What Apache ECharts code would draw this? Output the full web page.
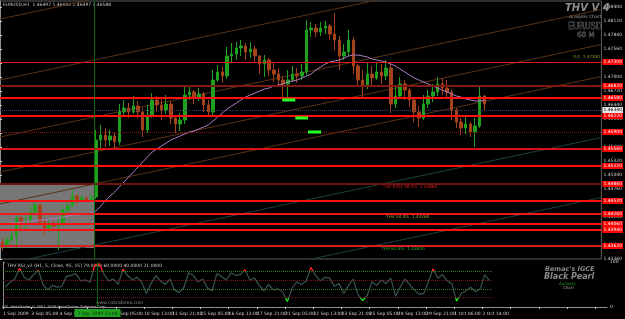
<!DOCTYPE html>
<html lang="en">
<head>
<meta charset="UTF-8">
<title>EURUSD H1</title>
<script src="https://cdn.jsdelivr.net/npm/echarts@6.0.0/dist/echarts.min.js"></script>
<style>
	* { margin: 0; padding: 0; }
	body, html { background: #000; }
	#main { width: 625px; height: 319px; }
</style>
</head>
<body>
<div id="main"></div>
<script>
	// time labels under the indicator pane (one every 6 candles)
	const tickLabels = ['1 Sep 2009', '3 Sep 05:00', '4 Sep 13:00', '7 Sep 21:00', '9 Sep 05:00', '10 Sep 13:00',
		'11 Sep 21:00', '15 Sep 05:00', '16 Sep 13:00', '17 Sep 21:00', '21 Sep 05:00', '22 Sep 13:00',
		'23 Sep 21:00', '25 Sep 05:00', '28 Sep 13:00', '29 Sep 21:00', '1 Oct 06:00', '2 Oct 14:00'];

	const firstOpen = 1.4370;
	const closes = [
		1.4364, 1.4374, 1.4382, 1.4418, 1.4406, 1.4412, 1.4430, 1.4444, 1.4410, 1.4398,
		1.4406, 1.4402, 1.4406, 1.4434, 1.4442, 1.4462, 1.4454, 1.4458, 1.4454, 1.4460,
		1.4574, 1.4584, 1.4574, 1.4582, 1.4570, 1.4630, 1.4638, 1.4630, 1.4642, 1.4630,
		1.4594, 1.4624, 1.4654, 1.4644, 1.4634, 1.4646, 1.4618, 1.4606, 1.4614, 1.4664,
		1.4670, 1.4658, 1.4666, 1.4644, 1.4630, 1.4694, 1.4710, 1.4702, 1.4742, 1.4746,
		1.4758, 1.4762, 1.4750, 1.4756, 1.4742, 1.4726, 1.4734, 1.4714, 1.4706, 1.4694,
		1.4686, 1.4694, 1.4706, 1.4702, 1.4710, 1.4794, 1.4798, 1.4790, 1.4798, 1.4802,
		1.4786, 1.4774, 1.4742, 1.4750, 1.4774, 1.4722, 1.4694, 1.4682, 1.4706, 1.4698,
		1.4710, 1.4702, 1.4718, 1.4646, 1.4662, 1.4686, 1.4674, 1.4654, 1.4630, 1.4618,
		1.4646, 1.4662, 1.4670, 1.4686, 1.4678, 1.4670, 1.4634, 1.4610, 1.4598, 1.4606,
		1.4590, 1.4602, 1.4662, 1.4646
	];
	const highs = [
		1.4378, 1.4382, 1.4394, 1.4428, 1.4422, 1.4424, 1.4442, 1.4452, 1.4444, 1.4418,
		1.4416, 1.4416, 1.4418, 1.4444, 1.4454, 1.4474, 1.4466, 1.4464, 1.4462, 1.4466,
		1.4594, 1.4604, 1.4598, 1.4594, 1.4588, 1.4646, 1.4654, 1.4648, 1.4662, 1.4652,
		1.4638, 1.4644, 1.4668, 1.4662, 1.4658, 1.4664, 1.4652, 1.4622, 1.4628, 1.4680,
		1.4682, 1.4674, 1.4678, 1.4670, 1.4654, 1.4714, 1.4724, 1.4720, 1.4760, 1.4768,
		1.4770, 1.4774, 1.4768, 1.4770, 1.4762, 1.4744, 1.4744, 1.4738, 1.4730, 1.4718,
		1.4702, 1.4714, 1.4722, 1.4718, 1.4726, 1.4814, 1.4810, 1.4806, 1.4810, 1.4812,
		1.4806, 1.4828, 1.4782, 1.4766, 1.4794, 1.4780, 1.4726, 1.4714, 1.4730, 1.4722,
		1.4730, 1.4726, 1.4734, 1.4726, 1.4682, 1.4700, 1.4694, 1.4678, 1.4658, 1.4642,
		1.4664, 1.4674, 1.4686, 1.4700, 1.4698, 1.4694, 1.4674, 1.4638, 1.4618, 1.4620,
		1.4610, 1.4618, 1.4680, 1.4664
	];
	const lows = [
		1.4354, 1.4358, 1.4370, 1.4358, 1.4396, 1.4396, 1.4410, 1.4424, 1.4402, 1.4384,
		1.4390, 1.4392, 1.4354, 1.4402, 1.4430, 1.4440, 1.4446, 1.4450, 1.4448, 1.4450,
		1.4456, 1.4554, 1.4560, 1.4562, 1.4554, 1.4564, 1.4622, 1.4618, 1.4626, 1.4618,
		1.4580, 1.4588, 1.4618, 1.4630, 1.4614, 1.4626, 1.4606, 1.4588, 1.4592, 1.4606,
		1.4654, 1.4646, 1.4652, 1.4630, 1.4622, 1.4624, 1.4690, 1.4688, 1.4696, 1.4730,
		1.4734, 1.4742, 1.4734, 1.4738, 1.4730, 1.4706, 1.4700, 1.4702, 1.4690, 1.4680,
		1.4658, 1.4658, 1.4690, 1.4688, 1.4694, 1.4704, 1.4780, 1.4780, 1.4782, 1.4786,
		1.4774, 1.4754, 1.4714, 1.4734, 1.4742, 1.4706, 1.4680, 1.4660, 1.4676, 1.4682,
		1.4694, 1.4686, 1.4694, 1.4628, 1.4638, 1.4658, 1.4654, 1.4640, 1.4610, 1.4600,
		1.4614, 1.4638, 1.4650, 1.4662, 1.4664, 1.4658, 1.4614, 1.4598, 1.4584, 1.4586,
		1.4580, 1.4560, 1.4598, 1.4634
	];
	// purple moving average
	const ma = [
		1.4406, 1.4406, 1.4408, 1.4408, 1.4410, 1.4410, 1.4412, 1.4412, 1.4414, 1.4414,
		1.4416, 1.4416, 1.4418, 1.4420, 1.4422, 1.4424, 1.4424, 1.4426, 1.4426, 1.4428,
		1.4432, 1.4442, 1.4452, 1.4462, 1.4470, 1.4480, 1.4490, 1.4500, 1.4510, 1.4520,
		1.4530, 1.4540, 1.4550, 1.4556, 1.4562, 1.4568, 1.4574, 1.4578, 1.4582, 1.4586,
		1.4590, 1.4592, 1.4596, 1.4600, 1.4604, 1.4612, 1.4620, 1.4628, 1.4636, 1.4642,
		1.4648, 1.4654, 1.4660, 1.4664, 1.4668, 1.4672, 1.4676, 1.4678, 1.4682, 1.4684,
		1.4686, 1.4690, 1.4692, 1.4694, 1.4698, 1.4702, 1.4706, 1.4714, 1.4720, 1.4726,
		1.4730, 1.4732, 1.4734, 1.4738, 1.4742, 1.4744, 1.4744, 1.4742, 1.4740, 1.4736,
		1.4734, 1.4732, 1.4730, 1.4726, 1.4722, 1.4716, 1.4710, 1.4704, 1.4698, 1.4694,
		1.4690, 1.4686, 1.4682, 1.4678, 1.4674, 1.4670, 1.4666, 1.4662, 1.4660, 1.4656,
		1.4654, 1.4652, 1.4652, 1.4654
	];
	const rsi = [
		45, 55, 62, 86, 66, 60, 72, 82, 50, 38, 48, 44, 46, 68, 70, 74, 58, 60, 55, 93,
		96, 72, 58, 62, 50, 84, 70, 60, 66, 55, 30, 52, 70, 58, 50, 62, 38, 32, 44, 76,
		70, 56, 62, 42, 36, 74, 68, 60, 76, 70, 72, 83, 60, 64, 48, 36, 50, 38, 40, 34,
		12, 42, 56, 50, 58, 88, 70, 58, 66, 64, 46, 52, 30, 48, 62, 28, 14, 26, 56, 48,
		60, 52, 64, 24, 44, 62, 50, 38, 28, 30, 56, 85, 64, 72, 58, 52, 13, 30, 36, 44,
		34, 40, 72, 58
	];
	const rsiLevels = [79, 60, 40, 21];

	// horizontal price levels (red lines with price boxes)
	const levelPrices = [1.4730, 1.4682, 1.4658, 1.4634, 1.4622, 1.4590, 1.4556, 1.4522, 1.4486,
		1.4452, 1.4426, 1.4406, 1.4394, 1.4362];
	// trend lines: price at left edge, price at right edge
	const trendLines = [[1.4816, 1.5071], [1.4694, 1.4949], [1.4580, 1.4835], [1.4510, 1.4765], [1.4446, 1.4701]];
	const lowerTrendLines = [[1.4324, 1.4579], [1.4204, 1.4459]];
	// short green marks: [from, to, price]
	const greenMarks = [[60.3, 63.1, 1.4654], [63.1, 65.8, 1.4618], [65.8, 68.6, 1.4590]];
	const shadeBox = [[0, 1.4488], [20.1, 1.4358]];
	const cursorAt = 20.1;
	const fibLabels = [
		['0.0  1.47300', 122.5, 1.4730, '#9a9a30', 'above'],
		['THV P/D3 38.2%  1.44860', 81.8, 1.4486, '#e02020', 'below'],
		['THV 50.0%  1.44260', 82.5, 1.4426, '#a0a030', 'below'],
		['THV 61.8%  1.43620', 81.5, 1.4362, '#30b030', 'below']
	];

	const xMax = 128.5;
	const small = 'DejaVu Sans';

	const chartDom = document.getElementById('main');
	const myChart = echarts.init(chartDom);

	const candleData = closes.map((c, i) => [i + 0.5, i ? closes[i - 1] : firstOpen, c, lows[i], highs[i]]);

	const levelColors = ['#e81414', '#7e1a12', '#ff1010', '#3c3c66', '#ff1010', '#8a1414', '#e01010',
		'#ff1010', '#6e1410', '#ff1010', '#f01818', '#ff1010', '#ff1010', '#d42020'];
	const levelWidths = [1, 2, 2, 1, 2, 1, 2, 2, 2, 2, 2, 2, 2, 2];
	const levelDotted = [false, false, false, true, false, true, false, false, false, false, false, false, false, false];

	const levelLines = levelPrices.map((p, i) => ({
		yAxis: p,
		lineStyle: { color: levelColors[i], width: levelWidths[i], type: levelDotted[i] ? 'dotted' : 'solid' },
		label: {
			show: true,
			position: 'end',
			distance: 1,
			formatter: (o) => Number(o.value).toFixed(5),
			fontSize: 4.5,
			fontFamily: small,
			color: i === 3 ? '#000' : '#fff',
			backgroundColor: i === 3 ? '#e8e8e8' : '#ff0000',
			padding: [1, 1, 0, 1]
		}
	}));

	const series = [{
		type: 'candlestick',
		xAxisIndex: 0,
		yAxisIndex: 0,
		data: candleData,
		encode: { x: 0, y: [1, 2, 3, 4] },
		barWidth: 3,
		itemStyle: {
			color: '#1fa01f',
			color0: '#a4421c',
			borderColor: '#1fa01f',
			borderColor0: '#a4421c',
			borderWidth: 1
		},
		markArea: {
			silent: true,
			itemStyle: { color: '#777777' },
			data: [[{ coord: shadeBox[0] }, { coord: shadeBox[1] }]]
		},
		markLine: {
			silent: true,
			precision: 5,
			symbol: ['none', 'none'],
			animation: false,
			data: levelLines.concat([{
				xAxis: cursorAt,
				lineStyle: { color: '#0c6a0c', width: 1, type: 'solid' },
				label: { show: false }
			}])
		}
	}, {
		type: 'line',
		xAxisIndex: 0,
		yAxisIndex: 0,
		data: ma.map((v, i) => [i + 0.5, v]),
		showSymbol: false,
		lineStyle: { color: '#b07cc4', width: 1 },
		z: 3
	}];

	trendLines.forEach(t => series.push({
		type: 'line', xAxisIndex: 0, yAxisIndex: 0,
		data: [[0, t[0]], [xMax, t[1]]],
		showSymbol: false, clip: true,
		lineStyle: { color: '#5a3214', width: 1 },
		z: 1
	}));
	lowerTrendLines.forEach(t => series.push({
		type: 'line', xAxisIndex: 0, yAxisIndex: 0,
		data: [[0, t[0]], [xMax, t[1]]],
		showSymbol: false, clip: true,
		lineStyle: { color: '#1c4040', width: 1 },
		z: 1
	}));
	greenMarks.forEach(g => series.push({
		type: 'line', xAxisIndex: 0, yAxisIndex: 0,
		data: [[g[0], g[2]], [g[1], g[2]]],
		showSymbol: false,
		lineStyle: { color: '#22ff22', width: 3 },
		z: 6
	}));

	const rsiIndex = series.length;
	series.push({
		type: 'line',
		xAxisIndex: 1,
		yAxisIndex: 1,
		data: rsi.map((v, i) => [i + 0.5, v]),
		showSymbol: false,
		lineStyle: { width: 1.3 },
		markLine: {
			silent: true,
			symbol: ['none', 'none'],
			animation: false,
			data: rsiLevels.map((lv, i) => [
				{ coord: [0, lv], lineStyle: { color: i % 2 ? '#7a1a1a' : '#3a7a2a', width: 1, type: 'dotted' }, label: { show: false } },
				{ coord: [rsi.length, lv] }
			]).concat([{
				xAxis: cursorAt,
				lineStyle: { color: '#0c6a0c', width: 1, type: 'solid' },
				label: {
					show: true,
					position: 'start',
					distance: 2,
					formatter: '7 Sep 2009 22:00',
					fontSize: 4.5,
					fontFamily: small,
					color: '#063006',
					backgroundColor: '#1fa01f',
					padding: [2, 3, 1, 3]
				}
			}])
		}
	});

	const option = {
		backgroundColor: '#000',
		animation: false,
		grid: [
			{ left: 0, right: 18, top: 1, height: 258, show: true, borderColor: '#5c5c5c', borderWidth: 1 },
			{ left: 0, right: 18, top: 262, height: 45 }
		],
		xAxis: [{
			type: 'value', gridIndex: 0, min: 0, max: xMax, show: false
		}, {
			type: 'value', gridIndex: 1, min: 0, max: xMax, interval: 6,
			axisLine: { lineStyle: { color: '#909090' } },
			axisTick: { length: 2, lineStyle: { color: '#c8c8c8' } },
			splitLine: { show: false },
			axisLabel: {
				fontSize: 4.5,
				fontFamily: small,
				color: '#d0d0d0',
				align: 'left',
				margin: 4,
				showMaxLabel: false,
				formatter: (v) => (v / 6 === 3 ? '' : (tickLabels[v / 6] || ''))
			}
		}],
		yAxis: [{
			type: 'value', gridIndex: 0, position: 'right',
			min: 1.4336, max: 1.4852, interval: 0.0028,
			axisLine: { show: true, lineStyle: { color: '#909090' } },
			axisTick: { show: true, length: 2, lineStyle: { color: '#c8c8c8' } },
			splitLine: { show: false },
			axisLabel: {
				fontSize: 4.5, fontFamily: small, color: '#d0d0d0', margin: 2,
				showMaxLabel: false,
				formatter: (v) => v.toFixed(5)
			}
		}, {
			type: 'value', gridIndex: 1, position: 'right',
			min: 0, max: 100, interval: 100,
			axisLine: { show: true, lineStyle: { color: '#909090' } },
			axisTick: { show: true, length: 2 },
			splitLine: { show: false },
			axisLabel: { fontSize: 4.5, fontFamily: small, color: '#d0d0d0', margin: 3 }
		}],
		visualMap: [{
			type: 'piecewise',
			show: false,
			seriesIndex: rsiIndex,
			dimension: 1,
			pieces: [
				{ lt: 21, color: '#22dd22' },
				{ gte: 21, lte: 79, color: '#34504e' },
				{ gt: 79, color: '#ff2020' }
			]
		}],
		series: series
	};
	myChart.setOption(option);

	// text blocks; level captions are placed through the price scale
	const texts = [
		{ type: 'text', left: 3, top: 2, style: { text: 'EURUSD,H1  1.46497 1.46682 1.46497 1.46588', fill: '#c8c8c8', font: '4.5px "DejaVu Sans"' } },
		{ type: 'text', left: 565, top: 3, style: { text: 'THV V 4', fill: '#8e8e8e', font: 'italic bold 10px "DejaVu Sans"' } },
		{ type: 'text', left: 569, top: 14, style: { text: 'Analysis Chart', fill: '#a0a0a0', font: '4.5px "DejaVu Sans"' } },
		{ type: 'text', left: 568, top: 23, style: { text: 'EURUSD', fill: '#101010', stroke: '#a8a8a8', lineWidth: 0.5, font: '8px "DejaVu Sans"' } },
		{ type: 'text', left: 577, top: 31, style: { text: '60 M', fill: '#101010', stroke: '#a8a8a8', lineWidth: 0.5, font: '7px "DejaVu Sans"' } },
		{ type: 'text', left: 7, top: 263, style: { text: 'THV RSI_v2 (H1, 5, Close, 95, 15) 79.0000 60.0000 40.0000 21.0000', fill: '#c8c8c8', font: '4.5px "DejaVu Sans"' } },
		{ type: 'text', left: 96, top: 300, style: { text: 'www.cobraforex.com', fill: '#8a8a8a', font: '4.5px "DejaVu Sans"' } },
		{ type: 'text', left: 2, top: 305, style: { text: 'CDL MetaTrader \u00a9 2001-2009 MetaQuotes Software Corp.', fill: '#c8c8c8', font: '3.6px "DejaVu Sans"' } },
		{ type: 'text', left: 545, top: 266, style: { text: "Bemac's IGCE", fill: '#8a8a8a', font: 'italic bold 6.5px "DejaVu Sans"' } },
		{ type: 'text', left: 544, top: 273, style: { text: 'Black Pearl', fill: '#8a8a8a', font: 'italic bold 8px "DejaVu Sans"' } },
		{ type: 'text', left: 559, top: 282, style: { text: 'Analysis', fill: '#2a9a2a', font: '4px "DejaVu Sans"' } },
		{ type: 'text', left: 563, top: 286, style: { text: 'Chart', fill: '#a0a0a0', font: '4px "DejaVu Sans"' } }
	];
	fibLabels.forEach(f => {
		const pt = myChart.convertToPixel({ gridIndex: 0 }, [f[1], f[2]]);
		texts.push({
			type: 'text', x: pt[0], y: f[4] === 'above' ? pt[1] - 7 : pt[1] + 1,
			style: { text: f[0], fill: f[3], font: '4.2px "DejaVu Sans"' }, z: 10
		});
	});
	myChart.setOption({ graphic: texts });
</script>
</body>
</html>
